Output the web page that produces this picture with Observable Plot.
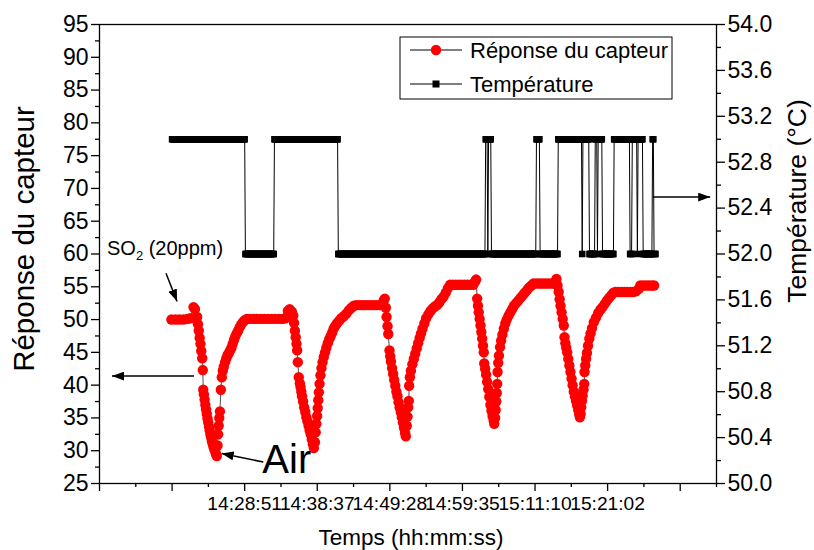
<!DOCTYPE html>
<html><head><meta charset="utf-8">
<script src="https://cdn.jsdelivr.net/npm/d3@7"></script>
<script src="https://cdn.jsdelivr.net/npm/@observablehq/plot@0.6"></script>
<style>
body{margin:0;background:#fff;}
#wrap{width:814px;height:550px;}
</style></head><body><div id="wrap"></div>
<script>
// ---- Sensor response (sample index, value) ----
const respIdx = [99,104.7,110.2,115.7,121.2,125.4,129.5,131.6,134.6,135.7,136.8,138.0,139.1,140.2,141.5,142.3,142.9,143.8,144.8,145.8,146.8,147.8,148.8,149.8,150.8,151.8,152.8,153.8,154.8,155.8,157.0,158.3,159.6,160.8,161.6,
162.6,163.4,164.2,165.0,165.9,167.2,168.5,169.9,171.2,173.0,174.8,176.5,178.3,180.0,181.8,183.5,185.3,187.0,189.0,191.0,193.0,195.0,197.5,200.0,203.0,
207,212,217,222,227,232,237,242,247,252,256,259.5,262,265,267,
268,269.2,270.3,271.4,272.3,273.2,274.5,276,277,278,279,280.5,282,283.5,285,286.5,288,289.5,291,292.5,294,295.3,
296.8,297.8,298.8,299.8,300.6,301.4,302.2,303.2,304.4,305.8,307.3,309.0,310.7,312.5,314.5,316.5,318.5,320.5,322.5,324.5,327,330,333,336.5,340,343.5,347,350.5,
354,358,362,366,370,374,378,382,386,389,391.5,393,
394.5,395.5,396.8,397.8,399.5,400.5,401.5,403,404.5,406,407.5,409,410.5,412,413.5,415,416.5,418,419.5,421,422,
423.3,424.3,425.3,426.1,426.6,427.6,429,431,433,435,437,439,441,443,445,447.5,450,453,456,459,462,465,468,471,474,477,480,483,
487,491,495,499,503,507,511,515,517.5,518.8,
520.3,521.4,522.5,523.7,524.9,526,527.2,528.3,529.4,530,531.3,532.6,534,535.5,537,538.5,540,541.5,543,543.8,
545,545.8,546.6,547.3,547.9,548.4,549.3,550.3,551.8,553.3,555,557,559,561,563.5,566,568.5,571,574,577,580,583,586,589,592,595,598,
602,606,610,614,618,622,626,629.5,
631,632.6,633.9,635.1,636.6,638.1,639.6,640.6,641.8,643,644.3,645.8,647.3,648.8,650.3,651.8,653.4,655,656.5,658.1,659.5,660.8,661.8,
662.8,663.6,664.6,665.6,666.8,667.8,668.2,669.2,670.3,671.5,673,674.8,676.5,678.5,681,684,687,690,693,696,699,702,705,708,711,715,719,723,727,731,735,739,743,745,749,753,757,761,764];
const respVal = [50.0,50.0,50.0,50.0,50.1,50.2,51.9,51.6,50.4,49.3,48.3,47.2,46.3,45.2,44.1,42.3,39.3,38.6,37.8,37.0,36.3,35.6,34.9,34.3,33.7,33.1,32.5,32.0,31.5,31.1,30.6,30.2,29.8,29.4,29.2,
30.8,32.5,33.8,35.0,36.0,39.3,41.2,42.2,42.8,43.5,44.1,44.6,44.9,45.3,45.7,46.3,46.9,47.4,47.9,48.3,48.8,49.2,49.6,49.9,50.1,
50.1,50.1,50.1,50.1,50.1,50.1,50.1,50.1,50.1,50.1,50.2,51.3,51.6,51.2,50.6,
49.5,48.3,47.3,46.3,45.3,43.5,41.2,40.3,39.7,39.0,38.3,37.5,36.6,35.9,35.1,34.5,33.8,33.1,32.5,31.7,31.0,30.4,
31.3,32.8,34.1,35.3,36.5,37.7,38.9,40.2,41.5,42.6,43.5,44.3,45.0,45.7,46.4,47.0,47.5,48.0,48.6,49.0,49.4,49.8,50.2,50.5,50.9,51.4,51.8,52.1,
52.2,52.2,52.2,52.2,52.2,52.2,52.2,52.2,52.2,52.2,52.9,53.2,
51.8,50.4,49.0,47.8,45.3,44.4,43.6,42.6,41.7,40.8,39.9,39.0,38.3,37.4,36.6,35.9,35.1,34.3,33.5,32.7,32.2,
33.8,35.2,36.6,37.6,39.9,41.2,42.2,43.2,44.0,44.8,45.6,46.4,47.2,47.9,48.6,49.4,50.2,50.8,51.3,51.7,52.0,52.2,52.6,53.1,53.5,54.1,54.8,55.3,
55.3,55.3,55.3,55.3,55.3,55.3,55.3,55.3,55.8,56.1,
53.2,52.1,51.1,50.1,49.1,48.1,47.1,46.0,45.0,43.3,42.5,41.6,40.5,39.4,38.2,37.0,36.1,35.3,34.6,34.1,
35.0,36.2,37.5,38.8,40.2,42.0,43.4,44.5,45.8,46.8,47.7,48.6,49.4,50.0,50.6,51.1,51.6,52.1,52.5,52.9,53.3,53.7,54.1,54.5,54.9,55.2,55.5,
55.5,55.5,55.5,55.5,55.5,55.5,55.5,56.2,
55.2,54.2,53.1,52.1,51.1,50.1,49.1,47.3,46.4,45.7,45.0,44.0,43.0,42.0,41.0,40.0,39.0,38.3,37.6,36.9,36.2,35.6,35.1,
35.6,36.6,37.6,38.4,39.3,40.2,42.0,43.0,44.0,44.9,46.0,47.1,47.9,48.7,49.6,50.3,51.0,51.5,51.9,52.4,52.9,53.3,53.7,54.1,54.2,54.2,54.2,54.2,54.2,54.2,54.2,54.3,54.7,55.2,55.2,55.2,55.2,55.2,55.2];

// ---- Temperature runs (start index, end index, °C) ----
const tempStart = [100,201,241,329,532,535,536,540,602,607,632,665,666,675,683,686,687,693,709,731,734,741,742,749,762,764];
const tempEnd   = [200,240,328,531,534,535,539,601,606,631,664,665,674,682,685,686,692,708,730,733,740,741,748,761,763,766];
const tempValue = [53,52,53,52,53,52,53,52,53,52,53,52,53,52,53,52,53,52,53,52,53,52,53,52,53,52];

// ---- Axes ----
const xTickPos = [0,100,200,300,400,500,600,700,800];
const xTickLabels = ["","","14:28:51","14:38:37","14:49:28","14:59:35","15:11:10","15:21:02",""];
const xMinorPos = [50,150,250,350,450,550,650,750,850];
const leftTicks = [25,30,35,40,45,50,55,60,65,70,75,80,85,90,95];
const leftMinor = [27.5,32.5,37.5,42.5,47.5,52.5,57.5,62.5,67.5,72.5,77.5,82.5,87.5,92.5];
const rightTicks = [50.0,50.4,50.8,51.2,51.6,52.0,52.4,52.8,53.2,53.6,54.0];
const rightMinor = [50.2,50.6,51.0,51.4,51.8,52.2,52.6,53.0,53.4,53.8];

// ---- Annotations (data units: index, left-axis value) ----
const arrowData = [
  {x1: 92.3, y1: 57.0, x2: 107.5, y2: 52.7},
  {x1: 130.9, y1: 41.3, x2: 17.9, y2: 41.3},
  {x1: 226.3, y1: 28.2, x2: 169.0, y2: 29.5},
  {x1: 763.2, y1: 68.6, x2: 842.0, y2: 68.6}
];
const labelSO2 = {x: 11, y: 59.8};
const labelAir = {x: 225, y: 26.5};

const FONT = '"Liberation Sans", Arial, sans-serif';
const tToY = t => 25 + (t - 50) * 17.5;
const yToT = y => ((y - 25) / 17.5 + 50).toFixed(1);

const resp = respIdx.map((x, k) => ({x, v: respVal[k]}));
const temp = [];
tempStart.forEach((s, k) => { for (let i = s; i <= tempEnd[k]; i++) temp.push({x: i, y: tToY(tempValue[k])}); });

const chart = Plot.plot({
  width: 814, height: 550,
  marginLeft: 99, marginRight: 98, marginTop: 24, marginBottom: 67,
  style: {fontFamily: FONT, color: "#000", background: "#fff", overflow: "visible"},
  x: {domain: [0, 850]},
  y: {domain: [25, 95]},
  marks: [
    Plot.axisY({ticks: leftTicks, anchor: "left", tickSize: 8, tickPadding: 3, fontSize: 23, label: null, tickFormat: d => String(d), strokeWidth: 1.3}),
    Plot.axisY({ticks: leftMinor, anchor: "left", tickSize: 4, tickFormat: () => "", label: null, strokeWidth: 1.3}),
    Plot.axisY({ticks: rightTicks.map(tToY), anchor: "right", tickSize: 8, tickPadding: 3, fontSize: 23, label: null, tickFormat: yToT, strokeWidth: 1.3}),
    Plot.axisY({ticks: rightMinor.map(tToY), anchor: "right", tickSize: 4, tickFormat: () => "", label: null, strokeWidth: 1.3}),
    Plot.axisX({ticks: xTickPos, anchor: "bottom", tickSize: 8, tickPadding: 5, fontSize: 19.2, label: null, tickFormat: d => xTickLabels[xTickPos.indexOf(d)], strokeWidth: 1.3}),
    Plot.axisX({ticks: xMinorPos, anchor: "bottom", tickSize: 4, tickFormat: () => "", label: null, strokeWidth: 1.3}),
    Plot.frame({stroke: "#000", strokeWidth: 1.3}),
    Plot.line(temp, {x: "x", y: "y", stroke: "#000", strokeWidth: 1}),
    Plot.dot(temp, {x: "x", y: "y", symbol: "square", r: 3.7, fill: "#000"}),
    Plot.line(resp, {x: "x", y: "v", stroke: "#222", strokeWidth: 0.8}),
    Plot.dot(resp, {x: "x", y: "v", r: 5.2, fill: "#ff0000"})
  ]
});
document.getElementById("wrap").appendChild(chart);

const sx = chart.scale("x"), sy = chart.scale("y");
const svg = d3.select(chart);
svg.append("defs").append("marker").attr("id", "ah")
  .attr("markerUnits", "userSpaceOnUse").attr("markerWidth", 13).attr("markerHeight", 9)
  .attr("refX", 12).attr("refY", 4.5).attr("orient", "auto")
  .append("path").attr("d", "M0,0 L12,4.5 L0,9 Z").attr("fill", "#000");
const g = svg.append("g").attr("font-family", FONT).attr("fill", "#000").attr("text-anchor", "start");
arrowData.forEach(a => {
  g.append("line").attr("x1", sx.apply(a.x1)).attr("y1", sy.apply(a.y1))
   .attr("x2", sx.apply(a.x2)).attr("y2", sy.apply(a.y2))
   .attr("stroke", "#000").attr("stroke-width", 1.5).attr("marker-end", "url(#ah)");
});
const so2 = g.append("text").attr("x", sx.apply(labelSO2.x)).attr("y", sy.apply(labelSO2.y)).attr("font-size", 20);
so2.append("tspan").text("SO");
so2.append("tspan").attr("font-size", 13).attr("dy", 5).text("2");
so2.append("tspan").attr("dy", -5).text(" (20ppm)");
g.append("text").attr("x", sx.apply(labelAir.x)).attr("y", sy.apply(labelAir.y)).attr("font-size", 40).text("Air");

// axis titles
g.append("text").attr("transform", "translate(23,239) rotate(-90)").attr("text-anchor", "middle")
  .attr("dominant-baseline", "central").attr("font-size", 29.5).text("Réponse du capteur");
g.append("text").attr("transform", "translate(797,201) rotate(-90)").attr("text-anchor", "middle")
  .attr("dominant-baseline", "central").attr("font-size", 26.5).text("Température (°C)");
g.append("text").attr("x", 411).attr("y", 537).attr("text-anchor", "middle")
  .attr("dominant-baseline", "central").attr("font-size", 22.5).text("Temps (hh:mm:ss)");

// legend
const lg = g.append("g");
lg.append("rect").attr("x", 400).attr("y", 37).attr("width", 272).attr("height", 62)
  .attr("fill", "#fff").attr("stroke", "#000").attr("stroke-width", 1);
lg.append("line").attr("x1", 410).attr("x2", 462).attr("y1", 50).attr("y2", 50).attr("stroke", "#000").attr("stroke-width", 1);
lg.append("circle").attr("cx", 436).attr("cy", 50).attr("r", 5.2).attr("fill", "#ff0000");
lg.append("text").attr("x", 470).attr("y", 50).attr("dominant-baseline", "central").attr("font-size", 22).text("Réponse du capteur");
lg.append("line").attr("x1", 410).attr("x2", 462).attr("y1", 84).attr("y2", 84).attr("stroke", "#000").attr("stroke-width", 1);
lg.append("rect").attr("x", 432.5).attr("y", 80.5).attr("width", 7).attr("height", 7).attr("fill", "#000");
lg.append("text").attr("x", 470).attr("y", 84).attr("dominant-baseline", "central").attr("font-size", 22).text("Température");
</script></body></html>
